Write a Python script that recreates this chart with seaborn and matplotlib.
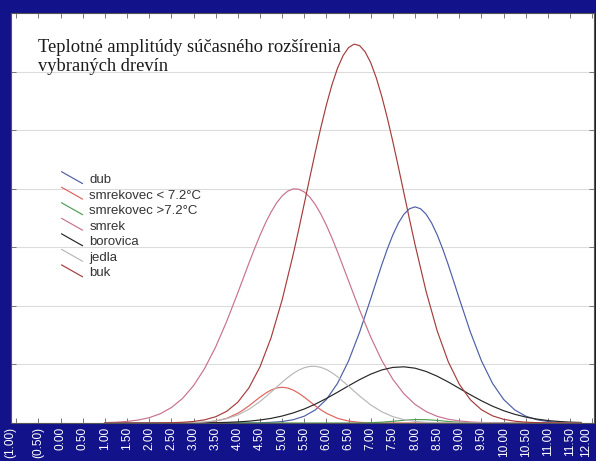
import numpy as np
import pandas as pd
import matplotlib
matplotlib.use("Agg")
import matplotlib.pyplot as plt
import seaborn as sns
from matplotlib.legend_handler import HandlerBase
from matplotlib.lines import Line2D
from matplotlib.ticker import FuncFormatter, MultipleLocator

# ---- data (y in grid units) ----
temperature = [1.00, 1.25, 1.50, 1.75, 2.00, 2.25, 2.50, 2.75, 3.00, 3.25, 3.50, 3.75,
               4.00, 4.25, 4.50, 4.75, 5.00, 5.25, 5.50, 5.75, 6.00, 6.25, 6.50, 6.75,
               7.00, 7.25, 7.50, 7.75, 8.00, 8.25, 8.50, 8.75, 9.00, 9.25, 9.50, 9.75,
               10.00, 10.25, 10.50, 10.75, 11.00, 11.25, 11.50, 11.75]

dub = [0, 0, 0, 0, 0, 0, 0, 0, 0, 0, 0, 0,
       0, 0, 0.004, 0.011, 0.025, 0.056, 0.116, 0.224, 0.402, 0.676, 1.060, 1.552,
       2.121, 2.702, 3.213, 3.565, 3.690, 3.565, 3.213, 2.702, 2.121, 1.552, 1.060, 0.676,
       0.402, 0.224, 0.116, 0.056, 0.025, 0.011, 0.004, 0.001]
dub_extra_t = [7.125, 7.375, 7.625, 7.875, 8.125, 8.375, 8.625, 8.875]
dub_extra_v = [2.414, 2.972, 3.414, 3.658, 3.658, 3.414, 2.972, 2.414]

smrekovec_low = [0, 0, 0, 0, 0, 0, 0, 0.001, 0.003, 0.011, 0.033, 0.080,
                 0.166, 0.293, 0.441, 0.562, 0.610, 0.562, 0.441, 0.293, 0.166, 0.080, 0.033, 0.011,
                 0.003, 0.001, 0, 0, 0, 0, 0, 0, 0, 0, 0, 0,
                 0, 0, 0, 0, 0, 0, 0, 0]
smrekovec_low_extra_t = [4.125, 4.375, 4.625, 4.875, 5.125, 5.375, 5.625, 5.875]
smrekovec_low_extra_v = [0.225, 0.367, 0.508, 0.598, 0.598, 0.508, 0.367, 0.225]

smrekovec_high = [0, 0, 0, 0, 0, 0, 0, 0, 0, 0, 0, 0,
                  0, 0, 0, 0, 0, 0, 0, 0, 0, 0, 0, 0,
                  0.005, 0.014, 0.029, 0.047, 0.059, 0.057, 0.044, 0.026, 0.012, 0.004, 0.001, 0,
                  0, 0, 0, 0, 0, 0, 0, 0]
smrekovec_high_extra_t = []
smrekovec_high_extra_v = []

smrek = [0.007, 0.013, 0.027, 0.050, 0.091, 0.158, 0.263, 0.418, 0.637, 0.930, 1.299, 1.737,
         2.224, 2.728, 3.203, 3.601, 3.877, 3.997, 3.945, 3.728, 3.375, 2.924, 2.426, 1.928,
         1.467, 1.068, 0.745, 0.498, 0.318, 0.195, 0.114, 0.064, 0.035, 0.018, 0.009, 0.004,
         0.002, 0, 0, 0, 0, 0, 0, 0]
smrek_extra_t = [4.375, 4.625, 4.875, 5.125, 5.375, 5.625, 5.875, 6.125]
smrek_extra_v = [2.972, 3.415, 3.757, 3.958, 3.992, 3.856, 3.566, 3.158]

borovica = [0, 0, 0, 0, 0, 0, 0, 0, 0.002, 0.003, 0.006, 0.011,
            0.019, 0.031, 0.051, 0.079, 0.119, 0.172, 0.239, 0.322, 0.419, 0.525, 0.635, 0.741,
            0.834, 0.906, 0.949, 0.959, 0.936, 0.880, 0.799, 0.700, 0.591, 0.482, 0.379, 0.287,
            0.210, 0.149, 0.101, 0.067, 0.042, 0.026, 0.015, 0.009]
borovica_extra_t = []
borovica_extra_v = []

jedla = [0, 0, 0, 0, 0, 0, 0, 0.003, 0.007, 0.017, 0.037, 0.074,
         0.137, 0.234, 0.366, 0.527, 0.696, 0.846, 0.944, 0.968, 0.913, 0.790, 0.629, 0.460,
         0.309, 0.191, 0.109, 0.057, 0.027, 0.012, 0.005, 0.002, 0.001, 0, 0, 0,
         0, 0, 0, 0, 0, 0, 0, 0]
jedla_extra_t = [5.125, 5.375, 5.625, 5.875, 6.125]
jedla_extra_v = [0.776, 0.903, 0.966, 0.950, 0.858]

buk = [0, 0, 0, 0, 0.001, 0.002, 0.005, 0.012, 0.026, 0.054, 0.107, 0.200,
       0.355, 0.599, 0.958, 1.455, 2.101, 2.878, 3.746, 4.629, 5.433, 6.056, 6.410, 6.443,
       6.151, 5.575, 4.801, 3.924, 3.047, 2.246, 1.573, 1.046, 0.661, 0.396, 0.226, 0.122,
       0.063, 0.031, 0.014, 0.006, 0.003, 0.001, 0, 0]
buk_extra_t = [5.375, 5.625, 5.875, 6.125, 6.375, 6.625, 6.875, 7.125, 7.375, 7.625, 7.875]
buk_extra_v = [3.305, 4.191, 5.048, 5.774, 6.271, 6.468, 6.336, 5.894, 5.207, 4.368, 3.480]

series_names = ["dub", "smrekovec < 7.2°C", "smrekovec >7.2°C", "smrek",
                "borovica", "jedla", "buk"]
series_values = [dub, smrekovec_low, smrekovec_high, smrek, borovica, jedla, buk]
series_extra_t = [dub_extra_t, smrekovec_low_extra_t, smrekovec_high_extra_t,
                  smrek_extra_t, borovica_extra_t, jedla_extra_t, buk_extra_t]
series_extra_v = [dub_extra_v, smrekovec_low_extra_v, smrekovec_high_extra_v,
                  smrek_extra_v, borovica_extra_v, jedla_extra_v, buk_extra_v]
series_colors = ["#4e5ea6", "#e0625c", "#4f9e55", "#c8718e",
                 "#262626", "#b8b8b8", "#a53c3c"]

x_ticks = [v / 2 for v in range(-2, 25)]

title_text = "Teplotné amplitúdy súčasného rozšírenia\nvybraných drevín"

# ---- build long table ----
frames = []
for name, vals, et, ev in zip(series_names, series_values, series_extra_t, series_extra_v):
    frames.append(pd.DataFrame({"t": list(temperature) + list(et),
                                "v": list(vals) + list(ev), "druh": name}))
df = pd.concat(frames, ignore_index=True)
df = df.sort_values(["druh", "t"], kind="stable").reset_index(drop=True)

sns.set_style("white")
plt.rcParams["font.family"] = ["Liberation Sans", "DejaVu Sans"]

W, H = 596, 461
fig = plt.figure(figsize=(W / 100, H / 100), dpi=100)
fig.patch.set_facecolor("#12128a")

ax_l, ax_r, ax_t, ax_b = 11, 594, 13, 423
ax = fig.add_axes([ax_l / W, (H - ax_b) / H, (ax_r - ax_l) / W, (ax_b - ax_t) / H])
ax.set_facecolor("white")

palette = dict(zip(series_names, series_colors))
sns.lineplot(data=df, x="t", y="v", hue="druh", hue_order=series_names,
             palette=palette, estimator=None, sort=True, legend=False,
             linewidth=0.85, ax=ax)

ax.set_xlim(-1.12, 12.04)
ax.set_ylim(0, 7)
ax.set_xlabel("")
ax.set_ylabel("")

ax.set_xticks(x_ticks)
ax.yaxis.set_major_locator(MultipleLocator(1))
ax.set_yticklabels([])


def fmt(v, pos):
    if v < 0:
        return "({:.2f})".format(-v)
    return "{:.2f}".format(v)


ax.xaxis.set_major_formatter(FuncFormatter(fmt))
ax.tick_params(axis="x", direction="in", length=3.5, width=0.7, color="#777777",
               top=True, bottom=True, labelcolor="white", labelsize=8.6,
               labelrotation=90, pad=3)
ax.tick_params(axis="y", direction="in", length=3.5, width=0.7, color="#777777",
               left=True, right=True, labelleft=False)

major_ticks = ax.xaxis.get_major_ticks()
major_ticks[0].label1.set_horizontalalignment("right")
major_ticks[-1].label1.set_horizontalalignment("right")

ax.grid(axis="y", color="#dcdcdc", linewidth=0.8)
ax.grid(axis="x", visible=False)
for s in ax.spines.values():
    s.set_color("#555555")
    s.set_linewidth(0.8)

ax.text((38 - ax_l) / (ax_r - ax_l), (ax_b - 39) / (ax_b - ax_t), title_text,
        transform=ax.transAxes, ha="left", va="top", fontsize=13.3,
        family=["Liberation Serif", "DejaVu Serif"], color="#1a1a1a",
        linespacing=1.12)


class DiagHandler(HandlerBase):
    def create_artists(self, legend, orig_handle, xdescent, ydescent,
                       width, height, fontsize, trans):
        y0 = -ydescent + height * 0.5 + 5.0
        line = Line2D([-xdescent, -xdescent + width], [y0, y0 - 8.6],
                      color=orig_handle.get_color(), linewidth=0.85)
        line.set_transform(trans)
        return [line]


handles = ax.lines[:len(series_names)]
leg = ax.legend(handles, series_names, loc="upper left",
                bbox_to_anchor=(61.5 / W, 1 - 174 / H), bbox_transform=fig.transFigure,
                frameon=False, fontsize=9.5, handlelength=1.6, handletextpad=0.5,
                labelspacing=0.25, borderpad=0, borderaxespad=0,
                handler_map={Line2D: DiagHandler()})
for t in leg.get_texts():
    t.set_color("#333333")

fig.savefig("out.png", dpi=100, facecolor=fig.get_facecolor())
